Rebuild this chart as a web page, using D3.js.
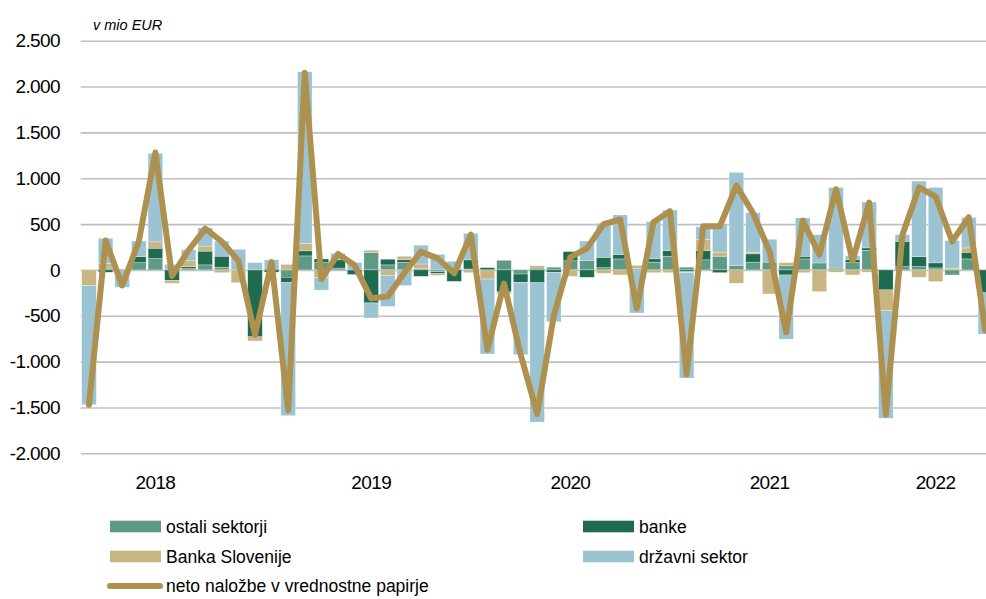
<!DOCTYPE html>
<html>
<head>
<meta charset="utf-8">
<script src="https://cdn.jsdelivr.net/npm/d3@7/dist/d3.min.js"></script>
<style>
  body { margin: 0; background: #ffffff; }
  svg { display: block; font-family: "Liberation Sans", Arial, sans-serif; }
</style>
</head>
<body>
<div id="chart"></div>
<script>
// Months Jan 2018 - Jul 2022
var months = ['2018-01','2018-02','2018-03','2018-04','2018-05','2018-06','2018-07','2018-08','2018-09','2018-10','2018-11','2018-12',
              '2019-01','2019-02','2019-03','2019-04','2019-05','2019-06','2019-07','2019-08','2019-09','2019-10','2019-11','2019-12',
              '2020-01','2020-02','2020-03','2020-04','2020-05','2020-06','2020-07','2020-08','2020-09','2020-10','2020-11','2020-12',
              '2021-01','2021-02','2021-03','2021-04','2021-05','2021-06','2021-07','2021-08','2021-09','2021-10','2021-11','2021-12',
              '2022-01','2022-02','2022-03','2022-04','2022-05','2022-06','2022-07'];

// Stacked series (mio EUR)
var ostali = [0, 20, 10, 80, 124, 0, 15, 55, 30, 0, 0, 20,
              -80, 153, 80, 20, 0, 190, 55, 84, 15, -20, 10, 10,
              0, 105, -45, 20, 30, 100, 100, 25, 120, 15, 85, 150,
              30, 110, 150, 50, 85, 85, 45, 120, 76, 20, 80, 215,
              0, 36, 36, 22, -55, 120, 0];
var banke = [0, -25, 0, 65, 113, -115, 20, 150, 120, 0, -730, -25,
             -58, 55, 40, 90, -50, -360, 62, 29, -70, -20, -125, 100,
             25, -240, -90, -140, -25, 100, -80, 113, 47, 0, 36, 62,
             -20, 100, -30, 0, 90, 0, -55, 29, 0, 0, 35, 25,
             -218, 276, 109, 55, 0, 73, -250];
var bankaSlovenije = [-170, 50, 0, 0, 69, -30, 65, 55, -30, -140, -45, 0,
                      60, 80, -85, 0, 0, 25, -60, 36, 50, -20, 0, -30,
                      -100, -20, 0, 25, 0, -70, 0, -36, -55, 35, -30, -30,
                      -10, 125, 44, -145, 18, -262, 35, -30, -236, -25, -55, -25,
                      -225, 0, -80, -127, 20, 47, 0];
var drzavni = [-1300, 275, -190, 170, 966, 60, 120, 200, 165, 225, 80, 90,
               -1452, 1873, -135, 70, 80, -164, -338, -171, 205, 170, 85, 290,
               -817, 0, -790, -1520, -540, 0, 215, 370, 433, -470, 405, 440,
               -1150, 135, 310, 1014, 430, 250, -700, 418, 309, 880, 40, 500,
               -1175, 73, 824, 823, 300, 333, -450];

// Line: net investment in securities
var neto = [-1470, 320, -170, 310, 1280, -65, 215, 450, 310, 100, -710, 85,
            -1530, 2150, -100, 175, 50, -310, -290, -30, 199, 126, -37, 385,
            -870, -150, -920, -1570, -500, 140, 235, 500, 550, -420, 520, 640,
            -1140, 475, 475, 920, 620, 200, -680, 540, 165, 880, 100, 735,
            -1580, 380, 900, 800, 310, 575, -660];

// Axis labels
var yTicks = [-2000, -1500, -1000, -500, 0, 500, 1000, 1500, 2000, 2500];
var yearLabels = ['2018', '2019', '2020', '2021', '2022'];
var yearLabelMonths = ['2018-05', '2019-06', '2020-06', '2021-06', '2022-04'];

var seriesKeys = ['ostali', 'banke', 'bankaSlovenije', 'drzavni'];
var seriesNames = ['ostali sektorji', 'banke', 'Banka Slovenije', 'državni sektor'];
var seriesColors = ['#5f9a85', '#1e6b50', '#c8b582', '#9bc3d2'];
var lineName = 'neto naložbe v vrednostne papirje';
var lineColor = '#ae914f';

function drawChart() {
  var width = 986, height = 599;

  var svg = d3.select('#chart').append('svg')
              .attr('width', width)
              .attr('height', height);

  // Build table for the stack
  var table = months.map(function(m, i) {
    return {month: m, ostali: ostali[i], banke: banke[i],
            bankaSlovenije: bankaSlovenije[i], drzavni: drzavni[i]};
  });

  // Plot runs past the right edge of the picture (last month is cut off)
  var x = d3.scaleBand()
            .domain(months)
            .range([80.7, 80.7 + months.length * 16.6])
            .paddingInner(0.12)
            .paddingOuter(0.06);

  var y = d3.scaleLinear()
            .domain([-2000, 2500])
            .range([453.3, 40.7]);

  // Gridlines + y labels (dot as thousands separator, plain hyphen for minus)
  var yAxis = d3.axisLeft(y)
                .tickValues(yTicks)
                .tickSize(-(width - 80.7))
                .tickPadding(20)
                .tickFormat(function(d) {
                  return d3.format(',')(d).replace(/,/g, '.').replace('\u2212', '-');
                });

  var gy = svg.append('g')
              .attr('transform', 'translate(80.7,0)')
              .call(yAxis);
  gy.select('.domain').remove();
  gy.selectAll('.tick line')
    .attr('stroke', '#bfbfbf')
    .attr('stroke-width', 1.6);
  gy.selectAll('.tick text')
    .attr('x', 60 - 80.7)
    .attr('fill', '#000')
    .style('font-size', '19px')
    .style('letter-spacing', '-0.6px')
    .style('font-family', '"Liberation Sans", Arial, sans-serif');

  // Unit label
  svg.append('text')
     .attr('x', 93)
     .attr('y', 30)
     .style('font-size', '14.5px')
     .style('font-style', 'italic')
     .text('v mio EUR');

  // Stacked bars
  var stack = d3.stack()
                .keys(seriesKeys)
                .offset(d3.stackOffsetDiverging);
  var stacked = stack(table);

  svg.append('g').selectAll('g')
     .data(stacked)
     .join('g')
     .attr('fill', function(d, i) { return seriesColors[i]; })
     .selectAll('rect')
     .data(function(d) { return d; })
     .join('rect')
     .attr('x', function(d) { return x(d.data.month); })
     .attr('width', x.bandwidth())
     .attr('y', function(d) { return y(Math.max(d[0], d[1])); })
     .attr('height', function(d) { return Math.abs(y(d[0]) - y(d[1])); })
     .attr('stroke', '#ffffff')
     .attr('stroke-width', 0.5)
     .attr('stroke-opacity', 0.6);

  // Net line
  var line = d3.line()
               .x(function(d, i) { return x(months[i]) + x.bandwidth() / 2; })
               .y(function(d) { return y(d); });

  svg.append('path')
     .datum(neto)
     .attr('d', line)
     .attr('fill', 'none')
     .attr('stroke', lineColor)
     .attr('stroke-width', 6)
     .attr('stroke-linejoin', 'round')
     .attr('stroke-linecap', 'round');

  // Year labels
  svg.append('g').selectAll('text')
     .data(yearLabels)
     .join('text')
     .attr('x', function(d, i) { return x(yearLabelMonths[i]) + x.bandwidth() / 2; })
     .attr('y', 489)
     .attr('text-anchor', 'middle')
     .style('font-size', '19px')
     .style('letter-spacing', '-0.6px')
     .text(function(d) { return d; });

  // Legend
  var legendX = [110, 583, 110, 583];
  var legendY = [526.5, 526.5, 556.5, 556.5];
  var legend = svg.append('g');

  seriesNames.forEach(function(name, i) {
    legend.append('rect')
          .attr('x', legendX[i])
          .attr('y', legendY[i] - 5.8)
          .attr('width', 51)
          .attr('height', 11.6)
          .attr('fill', seriesColors[i]);
    legend.append('text')
          .attr('x', legendX[i] + 56)
          .attr('y', legendY[i] + 6.3)
          .style('font-size', '17.5px')
          .text(name);
  });

  legend.append('line')
        .attr('x1', 110).attr('x2', 160)
        .attr('y1', 586).attr('y2', 586)
        .attr('stroke', lineColor)
        .attr('stroke-width', 6)
        .attr('stroke-linecap', 'round');
  legend.append('text')
        .attr('x', 166)
        .attr('y', 592.3)
        .style('font-size', '17.5px')
        .text(lineName);
} // End of drawChart() function

drawChart();
</script>
</body>
</html>
